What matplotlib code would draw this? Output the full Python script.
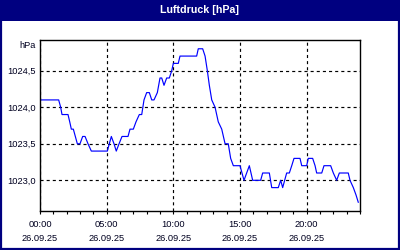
import matplotlib
matplotlib.use("Agg")
import matplotlib.pyplot as plt
from matplotlib.patches import Rectangle
from matplotlib.ticker import MultipleLocator

# hours since 26.09.25 00:00 and air pressure in hPa
hours = [0.0, 1.4, 1.55, 1.65, 2.1, 2.23, 2.35, 2.5, 2.65, 2.8, 3.0, 3.2, 3.38, 3.6, 3.85,
         5.05, 5.35, 5.55, 5.72, 5.93, 6.15, 6.6, 6.75, 7.0, 7.2, 7.45, 7.63, 7.8, 8.0,
         8.12, 8.2, 8.38, 8.55, 8.8, 9.0, 9.13, 9.3, 9.5, 9.7, 9.88, 10.0, 10.37, 10.5,
         11.75, 11.87, 12.2, 12.38, 12.55, 12.7, 12.88, 13.13, 13.37, 13.63, 13.88, 14.12,
         14.3, 14.5, 15.0, 15.3, 15.7, 15.95, 16.55, 16.7, 17.2, 17.38, 17.87, 18.05, 18.2,
         18.5, 18.7, 18.88, 19.05, 19.5, 19.63, 20.0, 20.12, 20.25, 20.45, 20.63, 20.75,
         21.13, 21.3, 21.8, 22.0, 22.25, 22.45, 23.12, 23.25, 23.5, 23.7, 23.87]
pressure = [1024.1, 1024.1, 1024.0, 1023.9, 1023.9, 1023.8, 1023.7, 1023.7, 1023.6, 1023.5,
            1023.5, 1023.6, 1023.6, 1023.5, 1023.4,
            1023.4, 1023.6, 1023.5, 1023.4, 1023.5, 1023.6, 1023.6, 1023.7, 1023.7, 1023.8,
            1023.9, 1023.9, 1024.1, 1024.2,
            1024.2, 1024.2, 1024.1, 1024.1, 1024.2, 1024.4, 1024.4, 1024.3, 1024.4, 1024.4,
            1024.5, 1024.6, 1024.6, 1024.7,
            1024.7, 1024.8, 1024.8, 1024.7, 1024.5, 1024.3, 1024.1, 1024.0, 1023.8, 1023.7,
            1023.5, 1023.5,
            1023.3, 1023.2, 1023.2, 1023.0, 1023.2, 1023.0, 1023.0, 1023.1, 1023.1, 1022.9,
            1022.9, 1023.0, 1022.9,
            1023.1, 1023.1, 1023.2, 1023.3, 1023.3, 1023.2, 1023.2, 1023.3, 1023.3, 1023.3,
            1023.2, 1023.1,
            1023.1, 1023.2, 1023.2, 1023.1, 1023.0, 1023.1, 1023.1, 1023.0, 1022.9, 1022.8,
            1022.7]

x_ticks = [0, 5, 10, 15, 20]
x_labels = ["00:00\n26.09.25", "05:00\n26.09.25", "10:00\n26.09.25",
            "15:00\n26.09.25", "20:00\n26.09.25"]
y_ticks = [1023.0, 1023.5, 1024.0, 1024.5]
y_labels = ["1023,0", "1023,5", "1024,0", "1024,5"]

navy = "#000080"
txt = "#000020"
plt.rcParams["font.family"] = ["Liberation Sans", "DejaVu Sans"]

fig = plt.figure(figsize=(4, 2.5), dpi=100)
fig.patch.set_facecolor("white")

# title bar and frame
fig.patches.append(Rectangle((0, 0.918), 1, 0.082, transform=fig.transFigure,
                             facecolor=navy, edgecolor="none", zorder=0))
fig.patches.append(Rectangle((0.0015, 0.004), 0.996, 0.99, transform=fig.transFigure,
                             facecolor="none", edgecolor=navy, linewidth=1.6, zorder=0))
fig.text(0.5, 0.959, "Luftdruck [hPa]", color="white", fontsize=7.7,
         fontweight="bold", ha="center", va="center")

ax = fig.add_axes([0.1, 0.156, 0.8, 0.684])
ax.plot(hours, pressure, color="#0000ff", linewidth=0.85)

ax.set_xlim(0, 24)
ax.set_ylim(1022.58, 1024.92)
ax.set_xticks(x_ticks)
ax.set_xticklabels(x_labels, linespacing=1.75)
ax.xaxis.set_minor_locator(MultipleLocator(1))
ax.set_yticks(y_ticks)
ax.set_yticklabels(y_labels)

ax.grid(True, color="black", linestyle=(0, (2.6, 2.6)), linewidth=0.85)
ax.tick_params(axis="x", which="both", direction="out", length=2.5, width=0.8,
               pad=4, labelsize=6.7, colors="black", labelcolor=txt)
ax.tick_params(axis="y", length=0, pad=3, labelsize=6.7, labelcolor=txt)
for s in ax.spines.values():
    s.set_linewidth(1.0)
    s.set_color("black")

ax.text(-0.012, 0.97, "hPa", transform=ax.transAxes, ha="right", va="center",
        fontsize=6.7, color=txt)

fig.savefig("out.png", dpi=100)
